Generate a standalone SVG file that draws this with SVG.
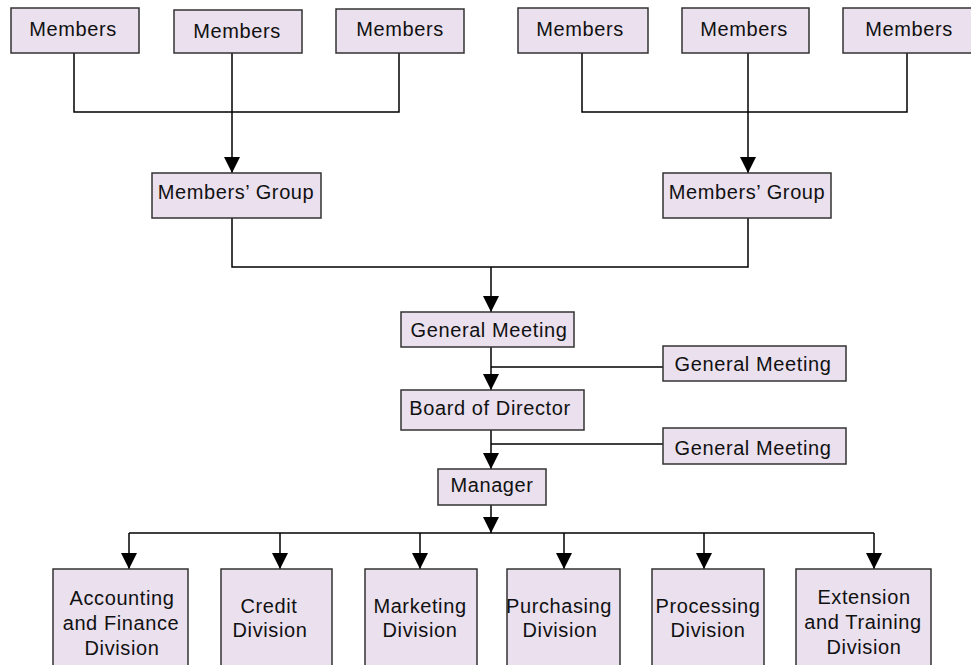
<svg xmlns="http://www.w3.org/2000/svg" width="971" height="665" viewBox="0 0 971 665">
<defs>
<marker id="arr" markerUnits="userSpaceOnUse" markerWidth="16" markerHeight="16" viewBox="0 0 16 16" refX="16" refY="8" orient="auto">
<path d="M0,0 L16,8 L0,16 Z" fill="#000"/>
</marker>
<style>
.box{fill:#EAE0EE;stroke:#333;stroke-width:1.5}
.t{font-family:"Liberation Sans",Arial,sans-serif;font-size:20px;letter-spacing:0.6px;fill:#111;text-anchor:middle}
.c{fill:none;stroke:#000;stroke-width:1.5}
.a{fill:none;stroke:#000;stroke-width:1.5;marker-end:url(#arr)}
</style>
</defs>
<rect width="971" height="665" fill="#fff"/>
<g id="connectors">
<path class="c" d="M74,53 V112 H399 V53"/>
<path class="a" d="M232,53 V173"/>
<path class="c" d="M582,53 V112 H907 V53"/>
<path class="a" d="M748,53 V173"/>
<path class="c" d="M232,218 V267 H748 V218"/>
<path class="a" d="M491,267 V312"/>
<path class="a" d="M491,347 V390"/>
<path class="c" d="M491,367 H663"/>
<path class="a" d="M491,430 V469"/>
<path class="c" d="M491,444 H663"/>
<path class="a" d="M491,505 V533"/>
<path class="c" d="M129,533 H874"/>
<path class="a" d="M129,533 V569"/>
<path class="a" d="M280,533 V569"/>
<path class="a" d="M420,533 V569"/>
<path class="a" d="M564,533 V569"/>
<path class="a" d="M704,533 V569"/>
<path class="a" d="M874,533 V569"/>
</g>
<g id="members1"><rect class="box" x="11" y="8" width="128" height="45"/><text class="t" x="73" y="36">Members</text></g>
<g id="members2"><rect class="box" x="174" y="10" width="128" height="43"/><text class="t" x="237" y="38">Members</text></g>
<g id="members3"><rect class="box" x="336" y="9" width="128" height="44"/><text class="t" x="400" y="36">Members</text></g>
<g id="members4"><rect class="box" x="518" y="8" width="130" height="45"/><text class="t" x="580" y="36">Members</text></g>
<g id="members5"><rect class="box" x="682" y="8" width="127" height="45"/><text class="t" x="744" y="36">Members</text></g>
<g id="members6"><rect class="box" x="843" y="8" width="135" height="45"/><text class="t" x="909" y="36">Members</text></g>
<g id="group1"><rect class="box" x="152" y="173" width="169" height="45"/><text class="t" x="236" y="199">Members’ Group</text></g>
<g id="group2"><rect class="box" x="663" y="173" width="168" height="45"/><text class="t" x="747" y="199">Members’ Group</text></g>
<g id="general-meeting"><rect class="box" x="401" y="312" width="173" height="35"/><text class="t" x="489" y="337">General Meeting</text></g>
<g id="general-meeting-side1"><rect class="box" x="663" y="346" width="183" height="35"/><text class="t" x="753" y="371">General Meeting</text></g>
<g id="board"><rect class="box" x="401" y="390" width="183" height="40"/><text class="t" x="490" y="415">Board of Director</text></g>
<g id="general-meeting-side2"><rect class="box" x="663" y="428" width="183" height="36"/><text class="t" x="753" y="455">General Meeting</text></g>
<g id="manager"><rect class="box" x="438" y="469" width="108" height="36"/><text class="t" x="492" y="492">Manager</text></g>
<g id="div-accounting"><rect class="box" x="53" y="569" width="135" height="110"/><text class="t" x="122" y="605">Accounting</text><text class="t" x="121" y="630">and Finance</text><text class="t" x="122" y="655">Division</text></g>
<g id="div-credit"><rect class="box" x="221" y="569" width="111" height="110"/><text class="t" x="269" y="613">Credit</text><text class="t" x="270" y="637">Division</text></g>
<g id="div-marketing"><rect class="box" x="365" y="569" width="112" height="110"/><text class="t" x="420" y="613">Marketing</text><text class="t" x="420" y="637">Division</text></g>
<g id="div-purchasing"><rect class="box" x="507" y="569" width="113" height="110"/><text class="t" x="559" y="613">Purchasing</text><text class="t" x="560" y="637">Division</text></g>
<g id="div-processing"><rect class="box" x="652" y="569" width="112" height="110"/><text class="t" x="708" y="613">Processing</text><text class="t" x="708" y="637">Division</text></g>
<g id="div-extension"><rect class="box" x="796" y="569" width="135" height="110"/><text class="t" x="864" y="604">Extension</text><text class="t" x="863" y="629">and Training</text><text class="t" x="864" y="654">Division</text></g>
</svg>
